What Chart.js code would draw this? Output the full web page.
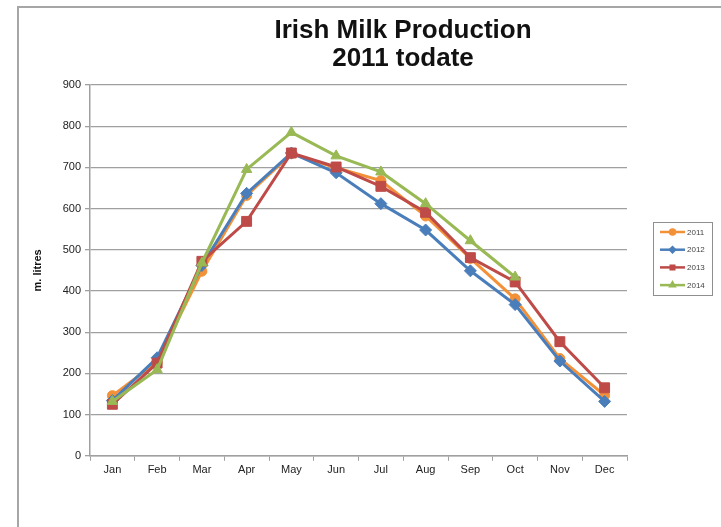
<!DOCTYPE html>
<html>
<head>
<meta charset="utf-8">
<title>Irish Milk Production</title>
<script src="https://cdn.jsdelivr.net/npm/chart.js@4.4.0/dist/chart.umd.min.js"></script>
<style>
  html, body { margin: 0; padding: 0; background: #fff; overflow: hidden; }
  #frame {
    position: absolute;
    left: 17px;
    top: 6px;
    width: 800px;
    height: 600px;
    border: 2px solid #a6a6a6;
  }
</style>
</head>
<body>
<div id="frame">
  <canvas id="milkChart" width="768" height="540"></canvas>
</div>
<script>
// months on the x axis
const months = ["Jan", "Feb", "Mar", "Apr", "May", "Jun", "Jul", "Aug", "Sep", "Oct", "Nov", "Dec"];

// million litres per month
const sales2011 = [146, 228, 448, 632, 733, 699, 668, 582, 479, 381, 236, 147];
const sales2012 = [134, 238, 462, 637, 735, 687, 612, 548, 449, 367, 230, 132];
const sales2013 = [125, 225, 472, 569, 735, 701, 654, 591, 481, 422, 277, 165];
const sales2014 = [132, 209, 468, 695, 785, 728, 689, 612, 522, 434, null, null];

const yTicks = [0, 100, 200, 300, 400, 500, 600, 700, 800, 900];

Chart.defaults.font.family = "Arial, 'Liberation Sans', sans-serif";
Chart.defaults.color = "#222";

// Excel-like boxed legend on the right
const legendBox = {
  id: "legendBox",
  afterDraw(chart) {
    const ctx = chart.ctx;
    const datasets = chart.data.datasets;
    ctx.save();
    ctx.strokeStyle = "#8f8f8f";
    ctx.lineWidth = 1;
    ctx.strokeRect(634.5, 214.5, 59, 73);
    datasets.forEach((ds, i) => {
      const y = 224 + i * 17.7;
      ctx.strokeStyle = ds.borderColor;
      ctx.lineWidth = 2.5;
      ctx.beginPath();
      ctx.moveTo(641, y);
      ctx.lineTo(666, y);
      ctx.stroke();
      ctx.fillStyle = ds.borderColor;
      if (Chart.helpers && Chart.helpers.drawPoint) {
        Chart.helpers.drawPoint(ctx, { pointStyle: ds.pointStyle, radius: 2.5, rotation: 0, borderWidth: 1 }, 653.5, y);
      }
      ctx.fillStyle = "#444";
      ctx.font = "8px Arial, 'Liberation Sans', sans-serif";
      ctx.textBaseline = "middle";
      ctx.fillText(ds.label, 668, y + 0.5);
    });
    ctx.restore();
  }
};

const ctx = document.getElementById("milkChart");

new Chart(ctx, {
  type: "line",
  data: {
    labels: months,
    datasets: [
      {
        label: "2011",
        data: sales2011,
        borderColor: "#F39138",
        backgroundColor: "#F39138",
        pointStyle: "circle",
        pointRadius: 5,
        order: 3,
      },
      {
        label: "2012",
        data: sales2012,
        borderColor: "#4A7EBB",
        backgroundColor: "#4A7EBB",
        pointStyle: "rectRot",
        pointRadius: 6,
        order: 2,
      },
      {
        label: "2013",
        data: sales2013,
        borderColor: "#BE4B48",
        backgroundColor: "#BE4B48",
        pointStyle: "rect",
        pointRadius: 7,
        order: 1,
      },
      {
        label: "2014",
        data: sales2014,
        borderColor: "#98B954",
        backgroundColor: "#98B954",
        pointStyle: "triangle",
        pointRadius: 6,
        order: 0,
      },
    ],
  },
  options: {
    responsive: false,
    animation: false,
    layout: { padding: { left: 0, right: 0, top: 0, bottom: 68 } },
    elements: {
      line: { borderWidth: 3, tension: 0, fill: false },
      point: { borderWidth: 1 },
    },
    plugins: {
      legend: { display: false },
      tooltip: { enabled: false },
      title: {
        display: true,
        text: ["Irish Milk Production", "2011 todate"],
        color: "#111",
        font: { size: 26, weight: "bold", lineHeight: "28px" },
        padding: { top: 9, bottom: 12 },
      },
    },
    scales: {
      x: {
        offset: true,
        grid: {
          display: true,
          drawOnChartArea: false,
          drawTicks: true,
          tickLength: 5,
          offset: true,
          color: "#a0a0a0",
        },
        border: { color: "#a0a0a0", width: 1.5 },
        ticks: { color: "#222", font: { size: 11 }, padding: 3, maxRotation: 0 },
      },
      y: {
        min: 0,
        max: 900,
        afterBuildTicks(scale) {
          scale.ticks = yTicks.map((v) => ({ value: v }));
        },
        ticks: { color: "#222", font: { size: 11 }, padding: 4 },
        grid: { color: "#a0a0a0", lineWidth: 1.3, tickLength: 5 },
        border: { color: "#a0a0a0", width: 1.5 },
        title: {
          display: true,
          text: "m. litres",
          color: "#111",
          font: { size: 11, weight: "bold" },
          padding: { top: 12, bottom: 0 },
        },
        afterFit(scale) {
          scale.width = 71;
        },
      },
      yRight: {
        position: "right",
        display: true,
        ticks: { display: false },
        grid: { display: false },
        border: { display: false },
        afterFit(scale) {
          scale.width = 160;
        },
      },
    },
  },
  plugins: [legendBox],
});
</script>
</body>
</html>
